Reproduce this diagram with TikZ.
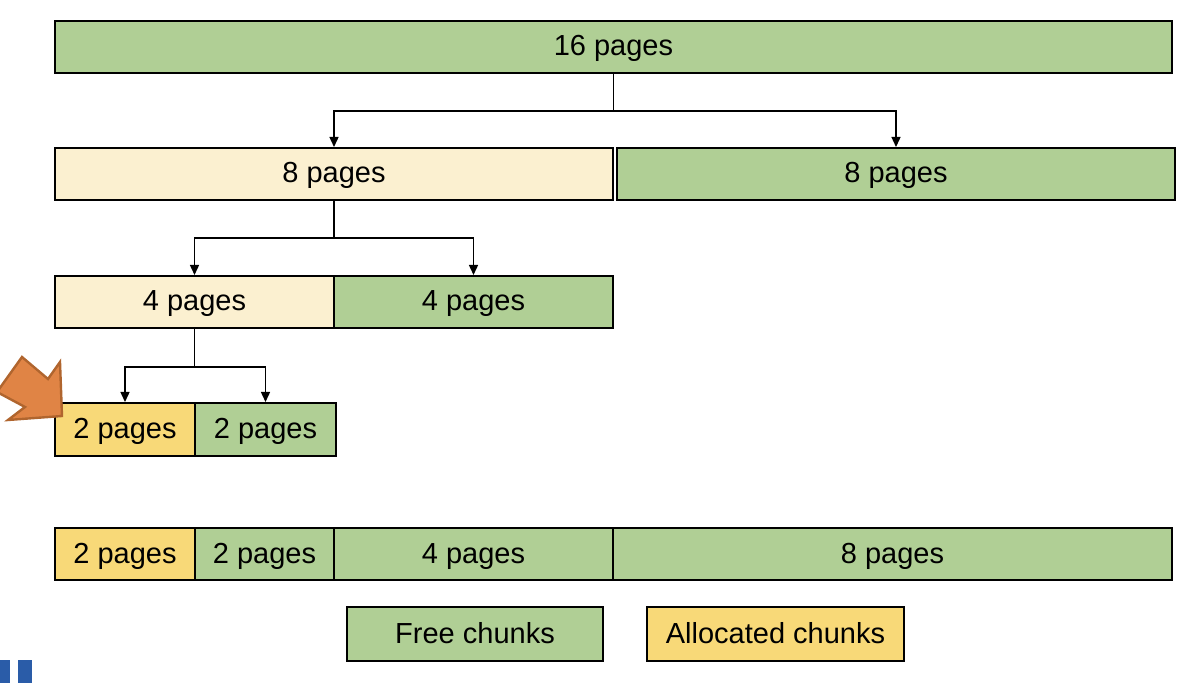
\documentclass[tikz,border=0pt]{standalone}
\usepackage{fontspec}
\setmainfont{Liberation Sans}
\usetikzlibrary{arrows.meta, calc}

\definecolor{freegreen}{HTML}{B0CF95}
\definecolor{splitcream}{HTML}{FBF0D0}
\definecolor{allocyellow}{HTML}{F8D978}
\definecolor{pointerorange}{HTML}{E08445}
\definecolor{pointeredge}{HTML}{B0652E}
\definecolor{logoblue}{HTML}{2A5CA8}

\begin{document}
\begin{tikzpicture}[x=0.5pt, y=-0.5pt,
    chunk/.style={draw, line width=1pt, anchor=north west, inner sep=0pt,
        minimum height=26pt, text height=10pt, text depth=1pt,
        font=\fontsize{14.5}{17}\selectfont},
    free/.style={chunk, fill=freegreen},
    split/.style={chunk, fill=splitcream},
    alloc/.style={chunk, fill=allocyellow},
    link/.style={line width=0.7pt, -{Triangle[length=5pt, width=4.5pt]}}]
    \useasboundingbox (0,0) rectangle (1188,683);

    % buddy tree
    \node[free, minimum width=558.5pt] (p16) at (54,20) {16 pages};
    \node[split, minimum width=279pt] (p8a) at (54,147) {8 pages};
    \node[free, minimum width=279pt] (p8b) at (616,147) {8 pages};
    \node[split, minimum width=139.5pt] (p4a) at (54,275) {4 pages};
    \node[free, minimum width=139.5pt] (p4b) at (333,275) {4 pages};
    \node[alloc, minimum width=70pt, minimum height=26.5pt] (p2a) at (54,402) {2 pages};
    \node[free, minimum width=70.5pt, minimum height=26.5pt] (p2b) at (194,402) {2 pages};

    \draw[link] (p16.south) -- ++(0,37) -| (p8a.north);
    \draw[link] (p16.south) -- ++(0,37) -| (p8b.north);
    \draw[link] (p8a.south) -- ++(0,37) -| (p4a.north);
    \draw[link] (p8a.south) -- ++(0,37) -| (p4b.north);
    \draw[link] (p4a.south) -- ++(0,38) -| (p2a.north);
    \draw[link] (p4a.south) -- ++(0,38) -| (p2b.north);

    % pointer to the allocated chunk
    \fill[pointerorange, draw=pointeredge, line width=1.2pt, line join=miter]
        (-3,392) -- (22,357) -- (48,379) -- (60,362) -- (62,416)
        -- (8,420) -- (25,407) -- cycle;

    % resulting memory layout
    \node[alloc, minimum width=70pt] (b2a) at (54,527) {2 pages};
    \node[free, minimum width=69.5pt] (b2b) at (194,527) {2 pages};
    \node[free, minimum width=139.5pt] (b4) at (333,527) {4 pages};
    \node[free, minimum width=279.5pt] (b8) at (612,527) {8 pages};

    % legend
    \node[free, minimum width=128pt, minimum height=27pt] (kfree) at (346,606) {Free chunks};
    \node[alloc, minimum width=128.5pt, minimum height=27pt] (kalloc) at (646,606) {Allocated chunks};

    % logo edge
    \fill[logoblue] (0,660) rectangle (10,683);
    \fill[logoblue] (18,660) rectangle (32,683);
\end{tikzpicture}
\end{document}
